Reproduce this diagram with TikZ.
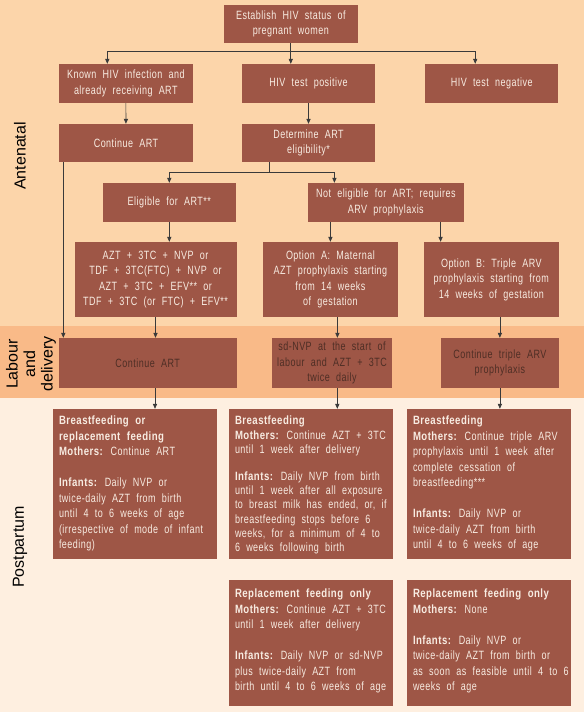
\documentclass[tikz,border=0pt]{standalone}
\usepackage{fontspec}
\usetikzlibrary{arrows.meta,calc}
\newfontfamily\boxfont[FakeStretch=0.75,LetterSpace=4,WordSpace=2.1,BoldFeatures={FakeStretch=0.8}]{Liberation Sans}
\newfontfamily\lblfont{Liberation Sans}
\definecolor{antecol}{HTML}{FCD5AA}
\definecolor{labcol}{HTML}{F9BA88}
\definecolor{postcol}{HTML}{FEEFE0}
\definecolor{boxcol}{HTML}{9E5646}
\definecolor{boxtext}{HTML}{F8ECE2}
\definecolor{labtext}{HTML}{4E2E25}
\definecolor{lncol}{HTML}{3A3A3A}
\tikzset{
  bx/.style={fill=boxcol, draw=none, text=boxtext, align=center, inner sep=0pt,
    font=\boxfont\fontsize{12}{15.5}\selectfont},
  lbx/.style={bx, text=labtext},
  pbox/.style={fill=boxcol, draw=none, inner sep=0pt, minimum width=164pt},
  ptext/.style={text=boxtext, align=left, inner sep=0pt, anchor=north west,
    font=\boxfont\fontsize{12}{15.5}\selectfont},
  ptextb/.style={ptext, font=\boxfont\fontsize{12}{14.3}\selectfont},
  ln/.style={draw=lncol, line width=0.7pt},
  arr/.style={ln, -{Triangle[length=5pt,width=4.2pt]}},
  band/.style={text=black, font=\lblfont\fontsize{16}{17.5}\selectfont, align=center, rotate=90}
}
\begin{document}
\begin{tikzpicture}[x=1pt,y=-1pt]
\useasboundingbox (0,0) rectangle (584,712);
\fill[antecol] (0,0) rectangle (584,326);
\fill[labcol] (0,326) rectangle (584,398);
\fill[postcol] (0,398) rectangle (584,712);

% band labels
\node[band] (lante) at (20,156) {Antenatal};
\node[band] (llab) at (31,364) {Labour\\and\\delivery};
\node[band] (lpost) at (20,547) {Postpartum};

% antenatal boxes
\node[bx, minimum width=133.5pt, minimum height=38pt] (top) at (290.8,24) {Establish HIV status of\\pregnant women};
\node[bx, minimum width=133.6pt, minimum height=39pt] (known) at (125.8,83.5) {Known HIV infection and\\already receiving ART};
\node[bx, minimum width=133pt, minimum height=39pt] (pos) at (308.5,83.5) {HIV test positive};
\node[bx, minimum width=133.3pt, minimum height=39pt] (neg) at (491.7,83.5) {HIV test negative};
\node[bx, minimum width=134pt, minimum height=38pt] (cont) at (126,143) {Continue ART};
\node[bx, minimum width=133pt, minimum height=38pt] (det) at (308.5,143) {Determine ART\\eligibility*};
\node[bx, minimum width=133pt, minimum height=39pt] (elig) at (169.3,202.5) {Eligible for ART**};
\node[bx, minimum width=156.4pt, minimum height=39pt] (notel) at (385.8,202.5) {Not eligible for ART; requires\\ARV prophylaxis};
\node[bx, minimum width=162pt, minimum height=75pt] (reg) at (155.5,279.5) {AZT + 3TC + NVP or\\TDF + 3TC(FTC) + NVP or\\AZT + 3TC + EFV** or\\TDF + 3TC (or FTC) + EFV**};
\node[bx, minimum width=135pt, minimum height=75pt] (optA) at (330.4,279.5) {Option A: Maternal\\AZT prophylaxis starting\\from 14 weeks\\of gestation};
\node[bx, minimum width=135pt, minimum height=75pt] (optB) at (491.3,279.5) {Option B: Triple ARV\\prophylaxis starting from\\14 weeks of gestation};

% labour boxes
\node[lbx, minimum width=177.7pt, minimum height=50pt] (L1) at (147.7,363) {Continue ART};
\node[lbx, minimum width=120.3pt, minimum height=50pt] (L2) at (332,363) {sd-NVP at the start of\\labour and AZT + 3TC\\twice daily};
\node[lbx, minimum width=117.7pt, minimum height=50pt] (L3) at (499.9,363) {Continue triple ARV\\prophylaxis};

% postpartum boxes
\node[pbox, minimum height=150pt] (P1) at (135,484) {};
\node[pbox, minimum height=150pt] (P2) at (311,484) {};
\node[pbox, minimum height=150pt] (P3) at (489,484) {};
\node[pbox, minimum height=126pt] (P4) at (311,643) {};
\node[pbox, minimum height=126pt] (P5) at (489,643) {};

\node[ptext] (t1) at ($(P1.north west)+(6,7)$) {\textbf{Breastfeeding or}\\\textbf{replacement feeding}\\\textbf{Mothers:} Continue ART\\[15.5pt]\textbf{Infants:} Daily NVP or\\twice-daily AZT from birth\\until 4 to 6 weeks of age\\(irrespective of mode of infant\\feeding)};
\node[ptextb] (t2) at ($(P2.north west)+(6,7)$) {\textbf{Breastfeeding}\\\textbf{Mothers:} Continue AZT + 3TC\\until 1 week after delivery\\[12.5pt]\textbf{Infants:} Daily NVP from birth\\until 1 week after all exposure\\to breast milk has ended, or, if\\breastfeeding stops before 6\\weeks, for a minimum of 4 to\\6 weeks following birth};
\node[ptext] (t3) at ($(P3.north west)+(6,7)$) {\textbf{Breastfeeding}\\\textbf{Mothers:} Continue triple ARV\\prophylaxis until 1 week after\\complete cessation of\\breastfeeding***\\[15.5pt]\textbf{Infants:} Daily NVP or\\twice-daily AZT from birth\\until 4 to 6 weeks of age};
\node[ptext] (t4) at ($(P4.north west)+(6,9)$) {\textbf{Replacement feeding only}\\\textbf{Mothers:} Continue AZT + 3TC\\until 1 week after delivery\\[15.5pt]\textbf{Infants:} Daily NVP or sd-NVP\\plus twice-daily AZT from\\birth until 4 to 6 weeks of age};
\node[ptext] (t5) at ($(P5.north west)+(6,9)$) {\textbf{Replacement feeding only}\\\textbf{Mothers:} None\\[15.5pt]\textbf{Infants:} Daily NVP or\\twice-daily AZT from birth or\\as soon as feasible until 4 to 6\\weeks of age};

% connectors
\draw[ln] (top.south) -- ++(0,7.7) coordinate (j1);
\draw[arr] (j1) -| ($(known.north)+(-18.5,0)$);
\draw[arr] (j1) -- (j1 |- pos.north);
\draw[arr] (j1) -| ($(neg.north)+(-16.5,0)$);
\draw[arr] (known) -- (cont);
\draw[arr] (pos) -- (det);
\coordinate (dout) at ($(det.south)+(-38.9,0)$);
\draw[ln] (dout) -- ++(0,10.3) coordinate (j2);
\draw[arr] (j2) -| (elig.north);
\draw[arr] (j2) -| ($(notel.north)+(-51.4,0)$);
\draw[arr] (elig.south) -- (elig.south |- reg.north);
\draw[arr] (optA.north |- notel.south) -- (optA.north);
\coordinate (nb) at ($(notel.south)+(54.8,0)$);
\draw[arr] (nb) -- (nb |- optB.north);
\coordinate (cl) at ($(cont.south)+(-62.7,0)$);
\draw[arr] (cl) -- (cl |- L1.north);
\draw[arr] (reg.south) -- (reg.south |- L1.north);
\coordinate (oa) at ($(optA.south)+(7,0)$);
\draw[arr] (oa) -- (oa |- L2.north);
\draw[arr] (L3.north |- optB.south) -- (L3.north);
\coordinate (a1) at ($(L1.south)+(7.3,0)$);
\draw[arr] (a1) -- (a1 |- P1.north);
\coordinate (a2) at ($(L2.south)+(5.3,0)$);
\draw[arr] (a2) -- (a2 |- P2.north);
\draw[arr] (L3.south) -- (L3.south |- P3.north);
\end{tikzpicture}
\end{document}
